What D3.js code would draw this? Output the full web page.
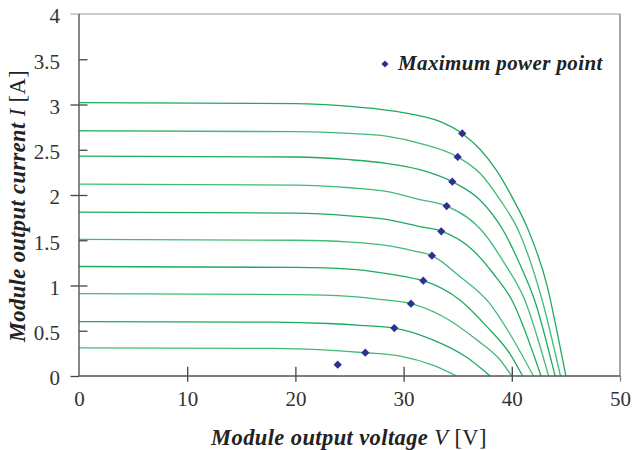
<!DOCTYPE html>
<html>
<head>
<meta charset="utf-8">
<script src="https://cdn.jsdelivr.net/npm/d3@7"></script>
<style>
  html, body { margin: 0; padding: 0; background: #fff; }
  svg { display: block; }
  .tick text { font-family: "Liberation Serif", "Times New Roman", serif; fill: #333; }
</style>
</head>
<body>
<svg id="chart" width="632" height="450"></svg>
<script>
// ---- data ----
const xTickValues = [0, 10, 20, 30, 40, 50];
const yTickValues = [0, 0.5, 1, 1.5, 2, 2.5, 3, 3.5, 4];
const yTickLabels = ["0", "0.5", "1", "1.5", "2", "2.5", "3", "3.5", "4"];

// I-V curves: [voltage V, current A]
const curve030 = [[0,0.31],[18,0.305],[23,0.285],[26.46,0.257],[29.7,0.22],[32.7,0.12],[34.9,0]];
const curve060 = [[0,0.60],[18,0.595],[23,0.58],[26,0.56],[29.14,0.53],[32.7,0.40],[35.8,0.21],[38.0,0]];
const curve090 = [[0,0.91],[20,0.90],[25,0.88],[28,0.845],[30.68,0.80],[33.6,0.66],[36.75,0.40],[38.9,0.18],[40.0,0]];
const curve120 = [[0,1.21],[20,1.20],[25,1.18],[28,1.14],[30,1.10],[31.82,1.053],[35.2,0.84],[37.7,0.545],[39.8,0.25],[41.0,0]];
const curve150 = [[0,1.51],[20,1.50],[25,1.48],[28.5,1.44],[31,1.38],[32.62,1.33],[35.2,1.10],[37.9,0.81],[39.8,0.47],[42.0,0]];
const curve180 = [[0,1.81],[20,1.80],[25,1.77],[28.4,1.73],[31.5,1.65],[33.5,1.60],[36.4,1.39],[38.3,1.13],[40.0,0.84],[42.7,0]];
const curve210 = [[0,2.12],[20,2.11],[25,2.08],[28.4,2.04],[31.5,1.95],[34.0,1.878],[37.2,1.61],[39.3,1.25],[41.2,0.84],[43.4,0]];
const curve240 = [[0,2.43],[20,2.42],[25,2.39],[28.4,2.35],[31.5,2.28],[34.5,2.147],[37.06,1.945],[39.2,1.61],[40.8,1.22],[42.1,0.84],[44.0,0]];
const curve270 = [[0,2.71],[20,2.70],[25,2.68],[28.4,2.65],[31.5,2.57],[35.0,2.42],[37.06,2.24],[38.9,1.95],[40.6,1.61],[42.8,0.84],[44.5,0]];
const curve300 = [[0,3.02],[20,3.01],[25,2.98],[27.7,2.95],[30.5,2.90],[33.4,2.81],[35.4,2.68],[37.1,2.50],[38.6,2.27],[40.1,1.96],[41.5,1.62],[43.3,0.98],[44.2,0.48],[45.0,0]];
const curves = [curve030, curve060, curve090, curve120, curve150, curve180, curve210, curve240, curve270, curve300];

// maximum power points
const mppV = [35.42, 35.0, 34.5, 33.98, 33.48, 32.62, 31.82, 30.68, 29.14, 26.46, 23.91];
const mppI = [2.68, 2.42, 2.147, 1.878, 1.599, 1.329, 1.053, 0.799, 0.530, 0.257, 0.125];

const legendLabel = "Maximum power point";
const xTitle = ["Module output voltage ", "V", " [V]"];
const yTitle = ["Module output current ", "I", " [A]"];

// ---- drawing ----
const svg = d3.select("#chart");
const x = d3.scaleLinear().domain([0, 50]).range([79, 620]);
const y = d3.scaleLinear().domain([0, 4]).range([376, 14]);

// frame (top & right, light gray)
svg.append("line").attr("x1", 70.5).attr("x2", x(50)).attr("y1", y(4)).attr("y2", y(4))
  .attr("stroke", "#9a9a9a").attr("stroke-width", 1.2);
svg.append("line").attr("x1", x(50)).attr("x2", x(50)).attr("y1", y(4)).attr("y2", y(0))
  .attr("stroke", "#8a8a8a").attr("stroke-width", 1.5);

// curves
const line = d3.line().x(d => x(d[0])).y(d => y(d[1])).curve(d3.curveMonotoneX);
svg.append("g").selectAll("path").data(curves).join("path")
  .attr("d", line)
  .attr("fill", "none")
  .attr("stroke", (d, i) => i % 2 ? "#1dab5f" : "#3fbb77")
  .attr("stroke-width", 1.3);

// y axis: outer major ticks with labels
const yAxisOuter = d3.axisLeft(y).tickValues(yTickValues)
  .tickFormat((d, i) => yTickLabels[i]).tickSizeInner(0).tickSizeOuter(0).tickPadding(19);
const gy = svg.append("g").attr("transform", `translate(${x(0)},0)`).call(yAxisOuter);
gy.select(".domain").remove();
gy.selectAll(".tick text").attr("font-size", 21).attr("dy", "0.42em");
gy.selectAll(".tick").filter(d => Number.isInteger(d) && d < 4).append("line")
  .attr("x2", -8.5).attr("stroke", "#444").attr("stroke-width", 1.3);
// inner ticks
const yAxisInner = d3.axisRight(y).tickValues(yTickValues.filter(d => d > 0 && d < 4))
  .tickFormat("").tickSizeInner(8.5).tickSizeOuter(0);
const gyi = svg.append("g").attr("transform", `translate(${x(0)},0)`).call(yAxisInner);
gyi.select(".domain").remove();
gyi.selectAll(".tick line").attr("stroke", "#444").attr("stroke-width", 1.3);

// x axis
const xAxis = d3.axisBottom(x).tickValues(xTickValues).tickSizeInner(5.7).tickSizeOuter(0).tickPadding(9.1);
const gx = svg.append("g").attr("transform", `translate(0,${y(0)})`).call(xAxis);
gx.select(".domain").remove();
gx.selectAll(".tick text").attr("font-size", 21);
gx.selectAll(".tick line").attr("stroke", d => d === 0 ? "none" : (d === 50 ? "#8a8a8a" : "#444")).attr("stroke-width", 1.3);
const xAxisTop = d3.axisTop(x).tickValues(xTickValues.filter(d => d > 0 && d < 50))
  .tickFormat("").tickSizeInner(9.3).tickSizeOuter(0);
const gxt = svg.append("g").attr("transform", `translate(0,${y(0)})`).call(xAxisTop);
gxt.select(".domain").remove();
gxt.selectAll(".tick line").attr("stroke", "#444").attr("stroke-width", 1.3);

// axis lines (left and bottom)
svg.append("line").attr("x1", x(0)).attr("x2", x(0)).attr("y1", y(4)).attr("y2", y(0))
  .attr("stroke", "#555").attr("stroke-width", 1.4);
svg.append("line").attr("x1", x(0)).attr("x2", x(50)).attr("y1", y(0)).attr("y2", y(0))
  .attr("stroke", "#555").attr("stroke-width", 1.4);

// maximum power points
const diamond = d3.symbol().type(d3.symbolSquare).size(34);
svg.append("g").selectAll("path").data(mppV).join("path")
  .attr("d", diamond)
  .attr("transform", (d, i) => `translate(${x(d)},${y(mppI[i])}) rotate(45)`)
  .attr("fill", "#2e3192");

// legend
svg.append("path").attr("d", d3.symbol().type(d3.symbolSquare).size(26))
  .attr("transform", "translate(385,64) rotate(45)").attr("fill", "#2e3192");
svg.append("text").attr("x", 398).attr("y", 70)
  .attr("font-family", "Liberation Serif, Times New Roman, serif")
  .attr("font-weight", "bold").attr("font-style", "italic").attr("font-size", 21)
  .attr("letter-spacing", 0.4)
  .attr("fill", "#222").text(legendLabel);

// axis titles
function title(sel, parts) {
  sel.attr("font-family", "Liberation Serif, Times New Roman, serif").attr("font-size", 22.5)
    .attr("letter-spacing", 0.4).attr("fill", "#222");
  sel.append("tspan").attr("font-weight", "bold").attr("font-style", "italic").text(parts[0]);
  sel.append("tspan").attr("font-style", "italic").text(parts[1]);
  sel.append("tspan").text(parts[2]);
}
svg.append("text").attr("x", 349).attr("y", 445).attr("text-anchor", "middle").call(title, xTitle);
svg.append("text").attr("transform", "translate(25,206) rotate(-90)").attr("text-anchor", "middle").call(title, yTitle);
</script>
</body>
</html>
